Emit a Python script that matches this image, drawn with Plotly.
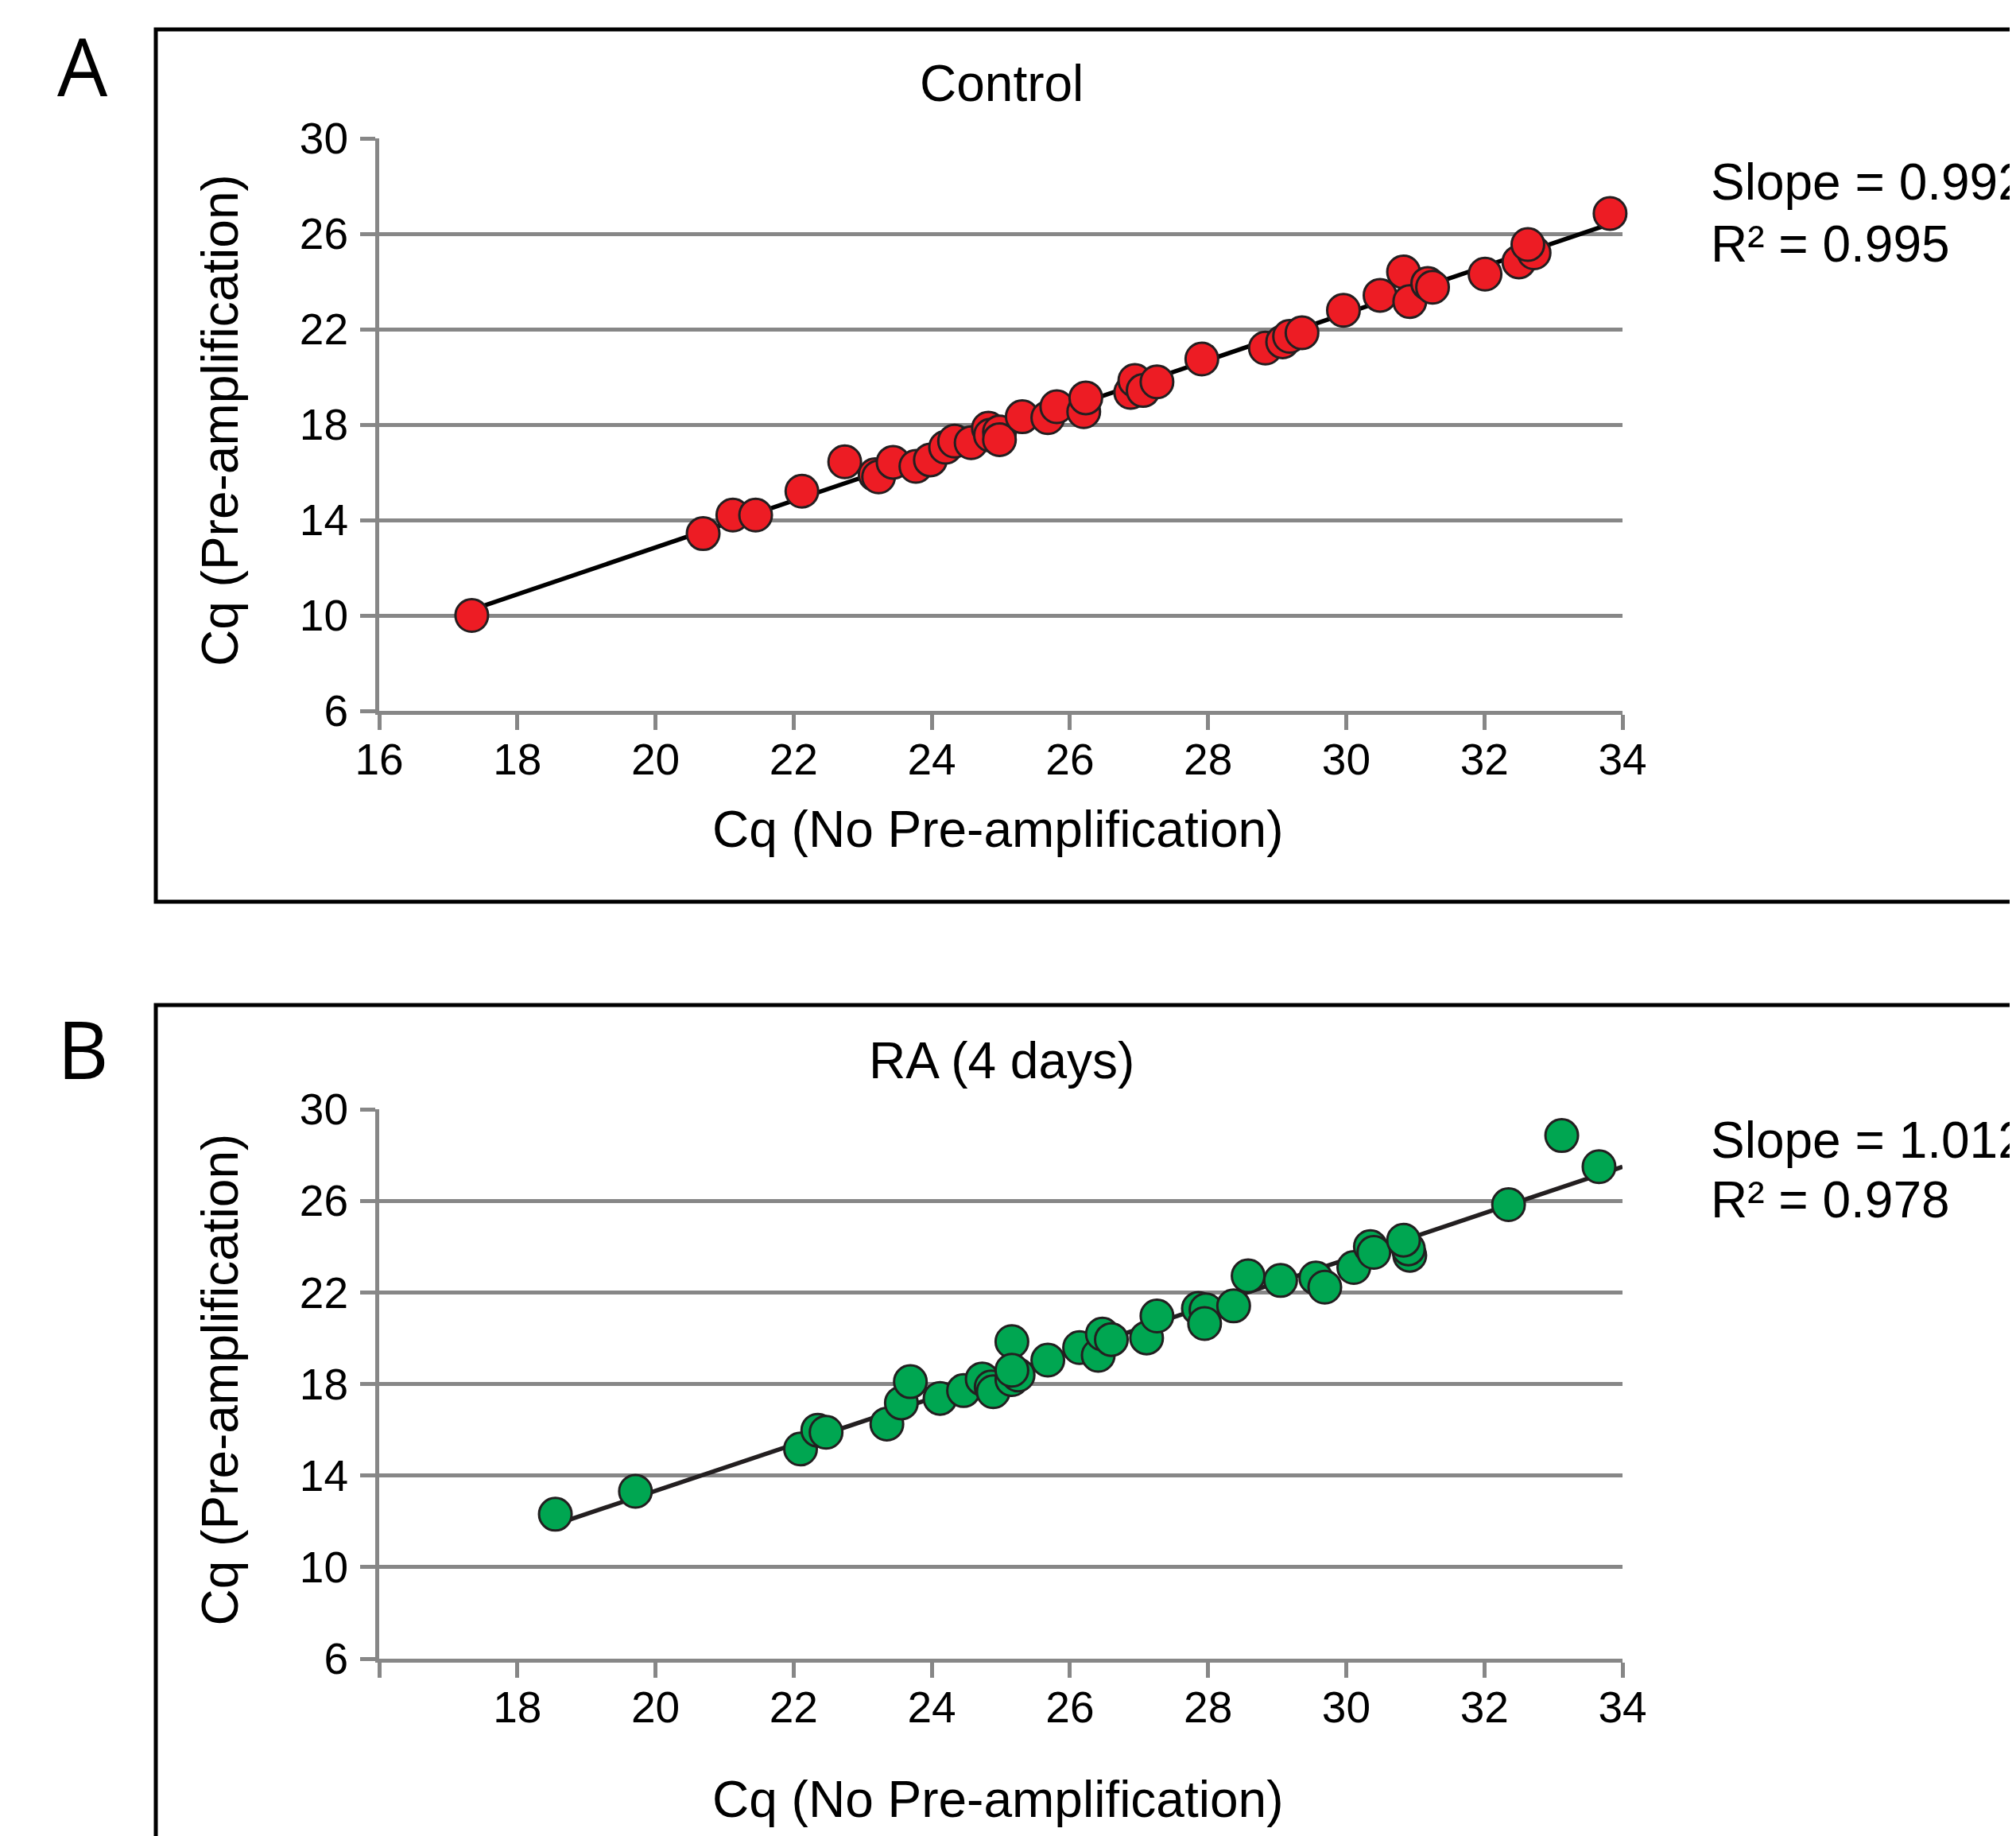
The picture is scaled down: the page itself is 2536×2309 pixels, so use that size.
import numpy as np
import plotly.graph_objects as go

# ---------------- data ----------------
control_x = [17.34, 20.69, 21.12, 21.45, 22.12, 22.74, 23.18, 23.23, 23.44, 23.77,
             23.98, 24.20, 24.33, 24.57, 24.82, 24.85, 24.98, 24.98, 25.31, 25.68,
             25.81, 26.20, 26.23, 26.88, 26.94, 27.06, 27.26, 27.91, 28.83, 29.08,
             29.18, 29.36, 29.96, 30.49, 30.83, 30.92, 31.18, 31.25, 32.01, 32.50,
             32.72, 32.63, 33.82]
control_y = [10.00, 13.43, 14.21, 14.21, 15.21, 16.44, 15.90, 15.81, 16.42, 16.25,
             16.52, 17.05, 17.31, 17.24, 17.85, 17.56, 17.69, 17.37, 18.33, 18.29,
             18.75, 18.54, 19.12, 19.35, 19.85, 19.43, 19.79, 20.75, 21.21, 21.47,
             21.70, 21.85, 22.79, 23.42, 24.40, 23.16, 23.92, 23.76, 24.31, 24.82,
             25.20, 25.55, 26.85]

ra_x = [18.55, 19.71, 22.10, 22.35, 22.47, 23.35, 23.56, 23.69, 24.12, 24.46,
        24.73, 24.86, 24.89, 25.16, 25.16, 25.25, 25.16, 25.68, 26.14, 26.41,
        26.47, 26.60, 27.11, 27.26, 27.86, 27.97, 27.95, 28.37, 28.58, 29.05,
        29.56, 29.69, 30.11, 30.35, 30.40, 30.92, 30.90, 30.83, 32.35, 33.12,
        33.66]
ra_y = [12.31, 13.31, 15.16, 15.98, 15.89, 16.25, 17.17, 18.10, 17.37, 17.71,
        18.22, 17.87, 17.66, 19.85, 18.19, 18.39, 18.60, 19.04, 19.59, 19.25,
        20.18, 19.94, 20.01, 20.97, 21.30, 21.24, 20.64, 21.41, 22.72, 22.52,
        22.63, 22.23, 23.09, 24.00, 23.75, 23.62, 23.90, 24.28, 25.83, 28.85,
        27.49]

x_ticks = [16, 18, 20, 22, 24, 26, 28, 30, 32, 34]
x_ticktext_a = ["16", "18", "20", "22", "24", "26", "28", "30", "32", "34"]
x_ticktext_b = ["", "18", "20", "22", "24", "26", "28", "30", "32", "34"]
y_ticks = [6, 10, 14, 18, 22, 26, 30]

titles = ["Control", "RA (4 days)"]
panel_labels = ["A", "B"]
slope_texts = ["Slope = 0.992", "Slope = 1.012"]
r2_texts = ["R\u00b2 = 0.995", "R\u00b2 = 0.978"]
x_title = "Cq (No Pre-amplification)"
y_title = "Cq (Pre-amplification)"

X_RANGE = [16, 34]
Y_RANGE = [6, 30]

# ---------------- layout geometry (page pixels) ----------------
W, H = 2536, 2309
OFF = 8  # default page margin around the figure
AX_X0, AX_X1 = 477, 2041
A_TOP, A_BOT = 174, 894
B_TOP, B_BOT = 1395, 2086


def px(x):
    return (x - OFF) / W


def py(y):
    return 1 - (y - OFF) / H


GRID = "#878787"
OUTL = "#231F20"
FONT = "Liberation Sans, Arial, sans-serif"

fig = go.Figure()

# trend lines (least squares fits of the data)
ca, cb = np.polyfit(control_x, control_y, 1)
lx_a = np.array([min(control_x), max(control_x)])
fig.add_trace(go.Scatter(x=lx_a, y=ca * lx_a + cb, mode="lines",
                         line=dict(color="black", width=5.5),
                         xaxis="x", yaxis="y", showlegend=False, hoverinfo="skip"))
ra_a, ra_b = np.polyfit(ra_x, ra_y, 1)
lx_b = np.array([min(ra_x), X_RANGE[1]])
fig.add_trace(go.Scatter(x=lx_b, y=ra_a * lx_b + ra_b, mode="lines",
                         line=dict(color=OUTL, width=5.5),
                         xaxis="x2", yaxis="y2", showlegend=False, hoverinfo="skip"))

fig.add_trace(go.Scatter(x=control_x, y=control_y, mode="markers",
                         marker=dict(size=41, color="#ED1C24",
                                     line=dict(color=OUTL, width=3)),
                         cliponaxis=False, xaxis="x", yaxis="y", showlegend=False))
fig.add_trace(go.Scatter(x=ra_x, y=ra_y, mode="markers",
                         marker=dict(size=41, color="#00A651",
                                     line=dict(color=OUTL, width=3)),
                         cliponaxis=False, xaxis="x2", yaxis="y2", showlegend=False))

tickfont = dict(family=FONT, size=55, color="black")
common_x = dict(range=X_RANGE, tickvals=x_ticks, ticks="outside", ticklen=19,
                tickwidth=5, tickcolor=GRID, showline=True, linecolor=GRID,
                linewidth=5, showgrid=False, zeroline=False, tickfont=tickfont,
                ticklabelstandoff=-10, automargin=False,
                domain=[px(AX_X0), px(AX_X1)])
common_y = dict(range=Y_RANGE, tickvals=y_ticks, ticks="outside", ticklen=19,
                tickwidth=5, tickcolor=GRID, showline=True, linecolor=GRID,
                linewidth=5, showgrid=True, gridcolor=GRID, gridwidth=5,
                zeroline=False, tickfont=tickfont, ticklabelstandoff=4,
                automargin=False)

fig.update_layout(
    width=W, height=H, autosize=False,
    margin=dict(l=0, r=0, t=0, b=0, pad=0, autoexpand=False),
    paper_bgcolor="white", plot_bgcolor="white",
    xaxis=dict(common_x, anchor="y", ticktext=x_ticktext_a),
    yaxis=dict(common_y, anchor="x", domain=[py(A_BOT), py(A_TOP)]),
    xaxis2=dict(common_x, anchor="y2", ticktext=x_ticktext_b),
    yaxis2=dict(common_y, anchor="x2", domain=[py(B_BOT), py(B_TOP)]),
)

# frames
fig.add_shape(type="rect", xref="paper", yref="paper",
              x0=px(196), x1=px(2700), y0=py(1134), y1=py(37),
              line=dict(color="black", width=5), layer="below")
fig.add_shape(type="rect", xref="paper", yref="paper",
              x0=px(196), x1=px(2700), y0=py(2500), y1=py(1264),
              line=dict(color="black", width=5), layer="below")


def ann(text, x, y, size, xanchor="center", angle=0, family=FONT):
    fig.add_annotation(text=text, xref="paper", yref="paper", x=px(x), y=py(y),
                       xanchor=xanchor, yanchor="middle", showarrow=False,
                       textangle=angle, font=dict(family=family, size=size, color="black"))


panel_y = [(A_TOP, A_BOT, 82, 105, 1043, 229, 307),
           (B_TOP, B_BOT, 1318, 1334, 2263, 1434, 1509)]
for i, (top, bot, ly, ty, xty, sy, ry) in enumerate(panel_y):
    ann(panel_labels[i], 104, ly, 100, family="Open Sans, sans-serif")
    ann(titles[i], 1260, ty, 64)
    ann(x_title, 1255, xty, 64)
    ann(y_title, 277, (top + bot) / 2 - 5, 64, angle=-90)
    ann(slope_texts[i], 2150, sy, 64, xanchor="left")
    ann(r2_texts[i], 2150, ry, 64, xanchor="left")

fig.write_html("out.html")
